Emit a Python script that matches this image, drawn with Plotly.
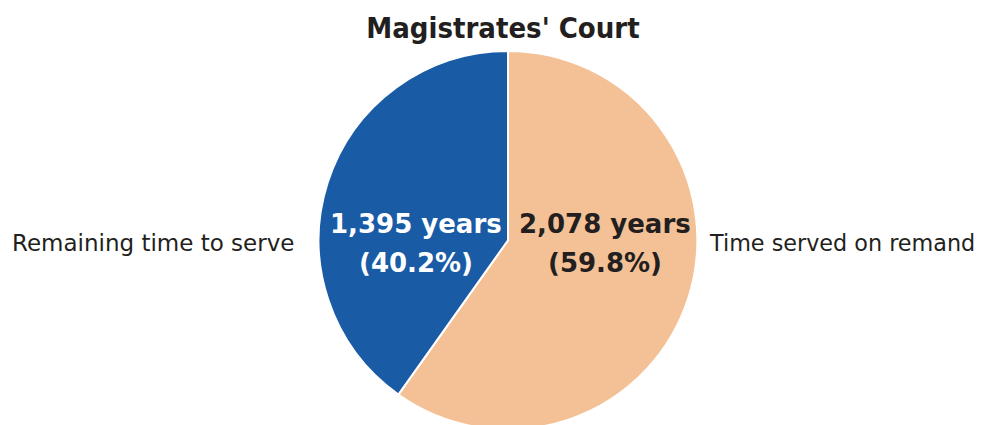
import plotly.graph_objects as go

labels = ["Time served on remand", "Remaining time to serve"]
years = [2078, 1395]
shares = [59.8, 40.2]
colors = ["#f4c196", "#1a5ba6"]
text_colors = ["#231f20", "#ffffff"]
title = "Magistrates' Court"

W, H = 987, 425

fig = go.Figure(go.Pie(
    labels=labels, values=years, sort=False, direction="clockwise", rotation=0,
    marker=dict(colors=colors, line=dict(color="white", width=2)),
    textinfo="none", hoverinfo="label+value+percent", showlegend=False,
    domain=dict(x=[0.0132, 1], y=[0.008, 0.899]),
))

# inside value labels (two lines each)
inner_x = [597, 408]
for i in range(len(labels)):
    fig.add_annotation(
        x=inner_x[i] / W, y=1 - 216 / H, xref="paper", yref="paper",
        text=f"<b>{years[i]:,} years</b>", showarrow=False,
        font=dict(family="DejaVu Sans", size=26, color=text_colors[i]),
    )
    fig.add_annotation(
        x=inner_x[i] / W, y=1 - 255 / H, xref="paper", yref="paper",
        text=f"<b>({shares[i]}%)</b>", showarrow=False,
        font=dict(family="DejaVu Sans", size=26, color=text_colors[i]),
    )

# outside category labels
fig.add_annotation(x=699 / W, y=1 - 235 / H, xref="paper", yref="paper",
                   text=labels[0], showarrow=False, xanchor="left",
                   font=dict(family="DejaVu Sans", size=22.3, color="#231f20"))
fig.add_annotation(x=288 / W, y=1 - 235 / H, xref="paper", yref="paper",
                   text=labels[1], showarrow=False, xanchor="right",
                   font=dict(family="DejaVu Sans", size=23, color="#231f20"))

fig.update_layout(
    width=W, height=H,
    margin=dict(l=0, r=0, t=0, b=0),
    paper_bgcolor="white", plot_bgcolor="white",
    title=dict(text=f"<b>{title}</b>", x=495 / W, xanchor="center", y=1 - 20 / H, yanchor="middle",
               font=dict(family="DejaVu Sans Condensed", size=29, color="#231f20")),
)

fig.write_html("out.html")
